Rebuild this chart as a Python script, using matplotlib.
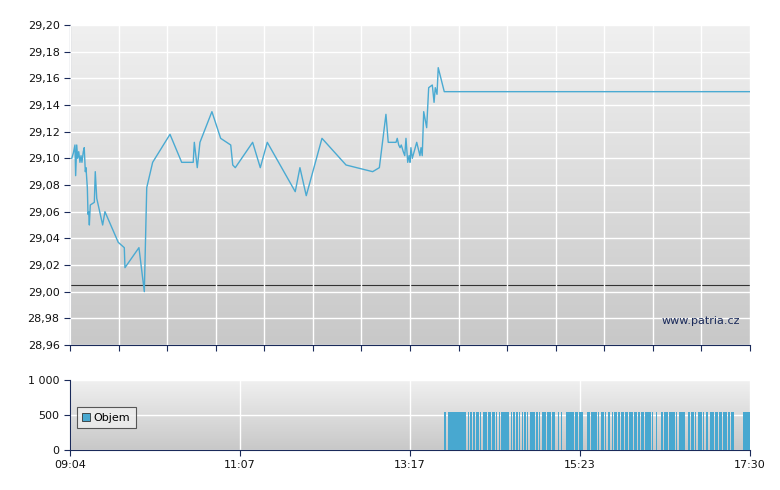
import numpy as np
import matplotlib
matplotlib.use("Agg")
import matplotlib.pyplot as plt
from matplotlib.ticker import FuncFormatter

# price line: minutes since 09:04, price
minutes = [1.3,2.5,3.7,4.2,5.0,5.7,6.5,7.4,8.2,8.9,9.9,10.6,11.4,11.9,12.9,13.4,13.9,14.4,15.1,18.1,18.8,19.9,
           24.3,26.0,35.9,40.4,40.9,51.3,55.3,57.1,61.5,74.4,83.1,91.7,92.5,94.7,96.7,105.6,112.1,119.6,121.1,123.0,
           135.9,141.6,146.8,167.6,171.1,175.8,187.5,205.4,225.2,230.2,235.1,236.8,242.6,243.5,244.6,245.6,246.5,
           248.0,249.1,250.0,251.3,252.3,253.0,253.7,254.7,258.0,260.4,261.2,262.1,263.2,265.4,266.9,269.6,270.9,
           271.8,273.1,274.0,278.5,506]
prices = [29.100,29.104,29.110,29.087,29.110,29.100,29.105,29.097,29.102,29.097,29.105,29.108,29.090,29.093,29.078,
          29.058,29.060,29.050,29.065,29.067,29.090,29.070,29.050,29.060,29.037,29.033,29.018,29.033,29.000,29.078,
          29.097,29.118,29.097,29.097,29.112,29.093,29.112,29.135,29.115,29.110,29.095,29.093,29.112,29.093,29.112,
          29.075,29.093,29.072,29.115,29.095,29.090,29.093,29.133,29.112,29.112,29.115,29.110,29.108,29.110,29.105,
          29.102,29.115,29.097,29.102,29.097,29.108,29.100,29.112,29.102,29.108,29.102,29.135,29.123,29.153,29.155,
          29.142,29.153,29.148,29.168,29.150,29.150]
prev_close = 29.005

# volume: trading from minute 278 to 505, with no-trade minutes listed
vol_start, vol_end = 278, 506
vol_gap_minutes = [280,295,297,299,301,304,306,310,313,316,318,320,327,329,331,333,335,337,339,341,346,348,350,354,
                   358,361,362,364,366,367,368,375,378,382,383,384,387,392,394,397,399,402,404,407,409,412,415,419,
                   422,424,427,432,434,435,437,438,439,441,445,450,452,458,459,461,464,466,470,472,475,479,482,485,
                   489,491,494,495,496,497,498,499,500]
vol_level = 550

xtick_labels = ["09:04", "11:07", "13:17", "15:23", "17:30"]
total = 506

navy = "#1a2a5a"
line_c = "#4aaad2"

fig = plt.figure(figsize=(7.8, 4.9), dpi=100)
fig.patch.set_facecolor("white")
ax = fig.add_axes([70/780, 1-345/490, 680/780, 320/490])
axv = fig.add_axes([70/780, 1-450/490, 680/780, 70/490])

def grad(a, top, bot):
    g = np.linspace(0, 1, 256).reshape(-1, 1)
    cmap = matplotlib.colors.LinearSegmentedColormap.from_list("g", [top, bot])
    a.imshow(g, aspect="auto", cmap=cmap, extent=[0, 1, 0, 1], transform=a.transAxes, zorder=0)

grad(ax, "#f0f0f0", "#c8c8c8")
grad(axv, "#f0f0f0", "#c8c8c8")

for a in (ax, axv):
    a.set_xlim(0, total)
    for s in ("top", "right"):
        a.spines[s].set_visible(False)
    for s in ("left", "bottom"):
        a.spines[s].set_color(navy)
    a.tick_params(colors=navy, labelcolor="#111111", labelsize=8, length=4, direction="out")

# main
ax.set_ylim(28.96, 29.20)
ax.set_yticks(np.arange(28.96, 29.2001, 0.02))
ax.yaxis.set_major_formatter(FuncFormatter(lambda v, p: f"{v:.2f}".replace(".", ",")))
xt = np.linspace(0, total, 15)
ax.set_xticks(xt)
ax.set_xticklabels([])
ax.grid(True, color="white", linewidth=1, zorder=1)
ax.set_axisbelow(False)
ax.plot(minutes, prices, color=line_c, linewidth=1, zorder=3)
ax.axhline(prev_close, color="#333333", linewidth=0.8, zorder=2)
ax.text(0.985, 0.06, "www.patria.cz", transform=ax.transAxes, ha="right", va="bottom",
        fontsize=8, color="#1a2a5a", zorder=4)

# volume
trade_minutes = [m for m in range(vol_start, vol_end) if m not in vol_gap_minutes]
axv.bar(trade_minutes, [vol_level]*len(trade_minutes), width=1.0, align="edge",
        color="#48a8d0", linewidth=0, zorder=3)
axv.set_ylim(0, 1000)
axv.set_yticks([0, 500, 1000])
axv.set_yticklabels(["0", "500", "1 000"])
axv.set_xticks(np.linspace(0, total, 5))
axv.set_xticklabels(xtick_labels)
axv.grid(True, color="white", linewidth=1, zorder=1)
leg = axv.legend([plt.Rectangle((0, 0), 1, 1, fc="#48a8d0", ec="#333333", lw=0.6)], ["Objem"],
                 loc="center left", bbox_to_anchor=(0.002, 0.46), fontsize=8, frameon=True,
                 fancybox=False, edgecolor="#333333", handlelength=0.7, handleheight=0.7,
                 handletextpad=0.3, borderpad=0.5)
leg.get_frame().set_facecolor("#eeeeee")
leg.get_frame().set_linewidth(0.8)

fig.savefig("out.png", dpi=100)
